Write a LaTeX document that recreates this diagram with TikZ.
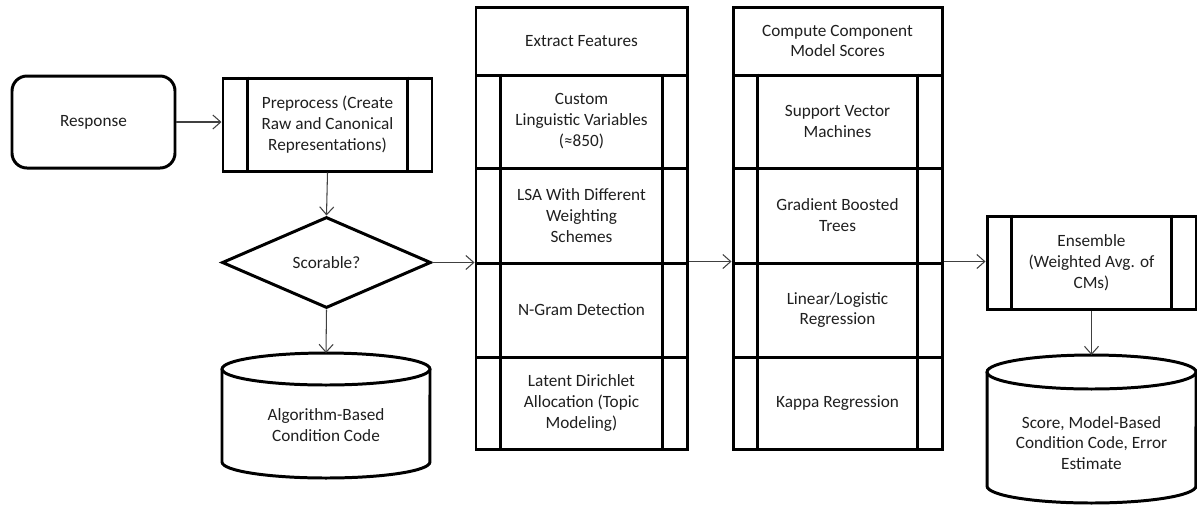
\documentclass[tikz,border=0pt]{standalone}
\usepackage{fontspec}
\setmainfont{Carlito}
\usetikzlibrary{arrows.meta,shapes.geometric}
\newcommand{\lbl}{\fontsize{9.8}{11.9}\selectfont}
\newcommand{\pxu}{0.02cm}
\tikzset{
  every node/.style={font=\lbl, align=center, text=black!88},
  box/.style={draw, line width=1.7pt, inner sep=0pt},
  bar/.style={line width=1.7pt},
  flow/.style={line width=0.6pt, draw=black!75, -{Straight Barb[length=4.5pt,width=8pt]}},
}
\begin{document}
\begin{tikzpicture}[x=0.02cm, y=-0.02cm]
\useasboundingbox (0,0) rectangle (1197,505);

% start and preprocessing
\node[box, rounded corners=0.3cm, minimum width=163*\pxu, minimum height=92*\pxu] (resp) at (93.5,122) {Response};
\node[box, minimum width=209*\pxu, minimum height=93*\pxu] (pre) at (327.5,124.5) {Preprocess (Create\\Raw and Canonical\\Representations)};
\node[box, diamond, aspect=2.3, minimum width=209*\pxu, minimum height=91*\pxu] (dia) at (326.5,262.5) {Scorable?};

% data store: condition code
\draw[line width=1.7pt] (222,369) -- (222,462) arc[start angle=180,end angle=360,x radius=2.08cm,y radius=0.32cm] -- (430,369);
\draw[line width=1.7pt] (326,369) ellipse [x radius=2.08cm, y radius=0.32cm];
\coordinate (cylAtop) at (326,353);
\node (cylA) at (326,425) {Algorithm-Based\\Condition Code};

% feature extraction column
\node[box, minimum width=211*\pxu, minimum height=68*\pxu] (c1h) at (581.5,41) {Extract Features};
\node[box, minimum width=211*\pxu, minimum height=93*\pxu] (c1a) at (581.5,121.5) {Custom\\Linguistic Variables\\(≈850)};
\node[box, minimum width=211*\pxu, minimum height=95*\pxu] (c1b) at (581.5,215.5) {LSA With Different\\Weighting\\Schemes};
\node[box, minimum width=211*\pxu, minimum height=94*\pxu] (c1c) at (581.5,310) {N-Gram Detection};
\node[box, minimum width=211*\pxu, minimum height=92*\pxu] (c1d) at (581.5,403) {Latent Dirichlet\\Allocation (Topic\\Modeling)};

% component model column
\node[box, minimum width=209*\pxu, minimum height=68*\pxu] (c2h) at (837.5,41) {Compute Component\\Model Scores};
\node[box, minimum width=209*\pxu, minimum height=93*\pxu] (c2a) at (837.5,121.5) {Support Vector\\Machines};
\node[box, minimum width=209*\pxu, minimum height=95*\pxu] (c2b) at (837.5,215.5) {Gradient Boosted\\Trees};
\node[box, minimum width=209*\pxu, minimum height=94*\pxu] (c2c) at (837.5,310) {Linear/Logistic\\Regression};
\node[box, minimum width=209*\pxu, minimum height=92*\pxu] (c2d) at (837.5,403) {Kappa Regression};

% ensemble
\node[box, minimum width=209*\pxu, minimum height=93*\pxu] (ens) at (1091.5,262.5) {Ensemble\\(Weighted Avg. of\\CMs)};

% data store: final output
\draw[line width=1.7pt] (987,372) -- (987,486) arc[start angle=180,end angle=360,x radius=2.09cm,y radius=0.34cm] -- (1196,372);
\draw[line width=1.7pt] (1091.5,372) ellipse [x radius=2.09cm, y radius=0.34cm];
\coordinate (cylBtop) at (1091.5,355);
\node (cylB) at (1091.5,443) {Score, Model-Based\\Condition Code, Error\\Estimate};

% side bars of predefined-process boxes
\foreach \n in {pre,c1a,c1b,c1c,c1d,c2a,c2b,c2c,c2d,ens} {
  \draw[bar] ([xshift=26*\pxu]\n.north west) -- ([xshift=26*\pxu]\n.south west);
  \draw[bar] ([xshift=-26*\pxu]\n.north east) -- ([xshift=-26*\pxu]\n.south east);
}

% connectors
\draw[flow] (resp.east) -- (resp.east -| pre.west);
\draw[flow] (pre.south) -- (dia.north);
\draw[flow] (dia.south) -- (cylAtop);
\draw[flow] (dia.east) -- (dia.east -| c1c.west);
\draw[flow] (c1c.north east) -- (c1c.north east -| c2c.west);
\draw[flow] (c2c.north east) -- (c2c.north east -| ens.west);
\draw[flow] (ens.south) -- (cylBtop);
\end{tikzpicture}
\end{document}
